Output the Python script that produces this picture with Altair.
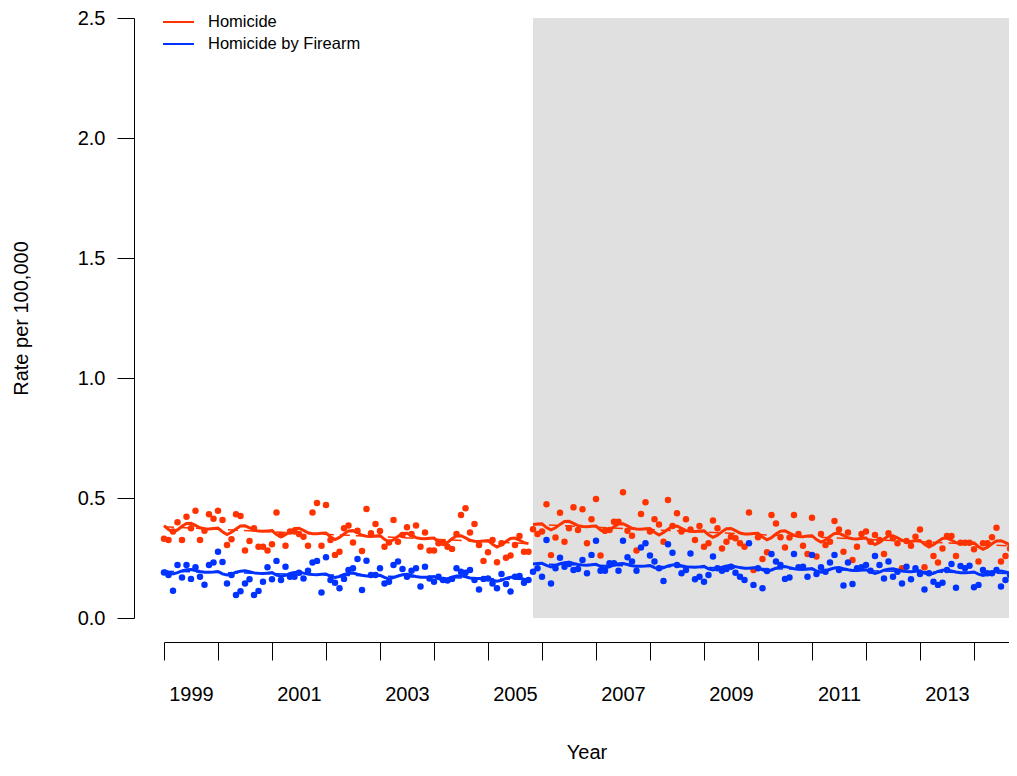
import altair as alt
import pandas as pd

# ---------------- data ----------------
series_names = ["Homicide", "Homicide by Firearm"]
series_colors = ["#FF3300", "#0033FF"]
start_year = 1999
intervention_month = 82          # Nov 2005 (months since Jan 1999)
last_month_visible = 187.78      # right edge of the visible window
year_ticks = list(range(1999, 2015))
y_ticks = [0.0, 0.5, 1.0, 1.5, 2.0, 2.5]

homicide = [
    0.330, 0.325, 0.360, 0.399, 0.325, 0.422, 0.374, 0.447, 0.325, 0.364, 0.432, 0.414,
    0.447, 0.408, 0.304, 0.328, 0.432, 0.425, 0.281, 0.321, 0.374, 0.297, 0.297, 0.281,
    0.307, 0.440, 0.346, 0.301, 0.360, 0.360, 0.350, 0.339, 0.301, 0.440, 0.479, 0.301,
    0.471, 0.325, 0.263, 0.276, 0.374, 0.385, 0.315, 0.364, 0.279, 0.454, 0.353, 0.392,
    0.363, 0.297, 0.315, 0.408, 0.318, 0.346, 0.378, 0.350, 0.385, 0.297, 0.356, 0.281,
    0.281, 0.311, 0.315, 0.297, 0.288, 0.350, 0.429, 0.457, 0.356, 0.392, 0.304, 0.238,
    0.274, 0.325, 0.232, 0.311, 0.251, 0.260, 0.304, 0.342, 0.276, 0.276, 0.370, 0.350,
    0.360, 0.474, 0.262, 0.335, 0.439, 0.318, 0.374, 0.461, 0.367, 0.453, 0.311, 0.411,
    0.496, 0.260, 0.364, 0.367, 0.401, 0.401, 0.524, 0.364, 0.343, 0.281, 0.433, 0.482,
    0.360, 0.411, 0.390, 0.318, 0.492, 0.383, 0.436, 0.360, 0.411, 0.369, 0.325, 0.383,
    0.297, 0.311, 0.406, 0.374, 0.290, 0.318, 0.339, 0.332, 0.311, 0.297, 0.440, 0.200,
    0.336, 0.246, 0.274, 0.429, 0.394, 0.336, 0.294, 0.335, 0.429, 0.350, 0.301, 0.267,
    0.418, 0.256, 0.350, 0.304, 0.318, 0.404, 0.369, 0.276, 0.356, 0.242, 0.297, 0.350,
    0.360, 0.318, 0.346, 0.325, 0.267, 0.353, 0.332, 0.311, 0.207, 0.321, 0.301, 0.339,
    0.369, 0.211, 0.314, 0.258, 0.231, 0.290, 0.342, 0.342, 0.258, 0.314, 0.314, 0.314,
    0.286, 0.235, 0.311, 0.311, 0.336, 0.376, 0.235, 0.258, 0.290, 0.478,
]

firearm = [
    0.190, 0.179, 0.114, 0.221, 0.169, 0.221, 0.163, 0.211, 0.172, 0.139, 0.221, 0.231,
    0.276, 0.233, 0.144, 0.179, 0.096, 0.111, 0.144, 0.161, 0.096, 0.113, 0.151, 0.211,
    0.161, 0.238, 0.158, 0.214, 0.172, 0.172, 0.189, 0.165, 0.197, 0.231, 0.238, 0.106,
    0.253, 0.158, 0.147, 0.124, 0.163, 0.200, 0.207, 0.246, 0.117, 0.239, 0.179, 0.179,
    0.207, 0.144, 0.151, 0.221, 0.235, 0.204, 0.172, 0.197, 0.207, 0.131, 0.214, 0.165,
    0.151, 0.172, 0.158, 0.156, 0.163, 0.207, 0.193, 0.189, 0.200, 0.158, 0.119, 0.163,
    0.165, 0.144, 0.124, 0.183, 0.142, 0.110, 0.172, 0.175, 0.147, 0.158, 0.193, 0.207,
    0.172, 0.325, 0.144, 0.207, 0.251, 0.214, 0.225, 0.200, 0.204, 0.242, 0.186, 0.263,
    0.322, 0.197, 0.197, 0.228, 0.228, 0.197, 0.322, 0.253, 0.235, 0.197, 0.294, 0.311,
    0.260, 0.235, 0.207, 0.154, 0.307, 0.272, 0.221, 0.186, 0.200, 0.269, 0.161, 0.172,
    0.151, 0.179, 0.256, 0.207, 0.197, 0.204, 0.214, 0.189, 0.172, 0.158, 0.311, 0.138,
    0.207, 0.124, 0.196, 0.267, 0.235, 0.221, 0.163, 0.169, 0.267, 0.211, 0.214, 0.172,
    0.263, 0.183, 0.211, 0.193, 0.231, 0.263, 0.200, 0.135, 0.231, 0.142, 0.207, 0.211,
    0.221, 0.197, 0.258, 0.221, 0.165, 0.235, 0.172, 0.193, 0.144, 0.214, 0.161, 0.207,
    0.183, 0.119, 0.186, 0.151, 0.138, 0.147, 0.200, 0.225, 0.126, 0.217, 0.207, 0.218,
    0.128, 0.138, 0.200, 0.186, 0.186, 0.200, 0.131, 0.158, 0.179, 0.276,
]

# fitted (seasonal) curves, read month by month
homicide_fit_pre = [
    0.385, 0.369, 0.358, 0.367, 0.382, 0.394, 0.395, 0.386, 0.376, 0.372, 0.371, 0.373,
    0.375, 0.359, 0.348, 0.357, 0.371, 0.383, 0.384, 0.376, 0.366, 0.362, 0.361, 0.363,
    0.364, 0.348, 0.338, 0.347, 0.361, 0.373, 0.374, 0.365, 0.355, 0.351, 0.351, 0.353,
    0.354, 0.338, 0.327, 0.336, 0.350, 0.363, 0.364, 0.355, 0.345, 0.341, 0.340, 0.342,
    0.344, 0.328, 0.317, 0.326, 0.340, 0.352, 0.353, 0.344, 0.335, 0.331, 0.330, 0.332,
    0.333, 0.317, 0.306, 0.315, 0.330, 0.342, 0.343, 0.334, 0.324, 0.320, 0.319, 0.321,
    0.323, 0.307, 0.296, 0.305, 0.319, 0.331, 0.333, 0.324, 0.314, 0.310,
]
homicide_fit_post = [
    0.390, 0.392,
    0.393, 0.377, 0.367, 0.376, 0.390, 0.402, 0.403, 0.394, 0.385, 0.381, 0.380, 0.382,
    0.383, 0.367, 0.357, 0.366, 0.380, 0.392, 0.393, 0.384, 0.374, 0.371, 0.370, 0.372,
    0.373, 0.357, 0.346, 0.356, 0.370, 0.382, 0.383, 0.374, 0.364, 0.361, 0.360, 0.362,
    0.363, 0.347, 0.336, 0.345, 0.360, 0.372, 0.373, 0.364, 0.354, 0.350, 0.350, 0.352,
    0.353, 0.337, 0.326, 0.335, 0.350, 0.362, 0.363, 0.354, 0.344, 0.340, 0.339, 0.342,
    0.343, 0.327, 0.316, 0.325, 0.340, 0.352, 0.353, 0.344, 0.334, 0.330, 0.329, 0.332,
    0.333, 0.317, 0.306, 0.315, 0.329, 0.342, 0.343, 0.334, 0.324, 0.320, 0.319, 0.322,
    0.323, 0.307, 0.296, 0.305, 0.319, 0.331, 0.333, 0.324, 0.314, 0.310, 0.309, 0.311,
    0.313, 0.297, 0.286, 0.295, 0.309, 0.321, 0.322, 0.314, 0.304, 0.300,
]
firearm_fit_pre = [
    0.199, 0.190, 0.184, 0.189, 0.196, 0.201, 0.202, 0.198, 0.194, 0.191, 0.191, 0.192,
    0.194, 0.184, 0.179, 0.183, 0.191, 0.195, 0.197, 0.193, 0.188, 0.186, 0.185, 0.187,
    0.189, 0.179, 0.174, 0.178, 0.186, 0.190, 0.192, 0.187, 0.183, 0.181, 0.180, 0.182,
    0.183, 0.174, 0.169, 0.173, 0.181, 0.185, 0.187, 0.182, 0.178, 0.175, 0.175, 0.177,
    0.178, 0.169, 0.163, 0.168, 0.175, 0.180, 0.182, 0.177, 0.173, 0.170, 0.170, 0.171,
    0.173, 0.164, 0.158, 0.163, 0.170, 0.175, 0.176, 0.172, 0.167, 0.165, 0.165, 0.166,
    0.168, 0.158, 0.153, 0.157, 0.165, 0.170, 0.171, 0.167, 0.162, 0.160,
]
firearm_fit_post = [
    0.225, 0.227,
    0.228, 0.219, 0.213, 0.218, 0.226, 0.230, 0.232, 0.227, 0.223, 0.221, 0.220, 0.222,
    0.224, 0.214, 0.209, 0.213, 0.221, 0.226, 0.227, 0.223, 0.218, 0.216, 0.216, 0.217,
    0.219, 0.210, 0.204, 0.209, 0.217, 0.221, 0.223, 0.218, 0.214, 0.212, 0.211, 0.213,
    0.215, 0.205, 0.200, 0.205, 0.212, 0.217, 0.218, 0.214, 0.210, 0.207, 0.207, 0.209,
    0.210, 0.201, 0.195, 0.200, 0.208, 0.212, 0.214, 0.210, 0.205, 0.203, 0.202, 0.204,
    0.206, 0.196, 0.191, 0.196, 0.203, 0.208, 0.210, 0.205, 0.201, 0.198, 0.198, 0.200,
    0.201, 0.192, 0.186, 0.191, 0.199, 0.203, 0.205, 0.200, 0.196, 0.194, 0.193, 0.195,
    0.197, 0.187, 0.182, 0.186, 0.194, 0.199, 0.200, 0.196, 0.192, 0.189, 0.189, 0.190,
    0.192, 0.183, 0.177, 0.182, 0.190, 0.194, 0.196, 0.192, 0.187, 0.185,
]

# straight (de-seasonalised) trend segments: [start month, end month], [start, end value]
trend_months_pre = [0, 81]
trend_months_post = [82, 189]
homicide_trend_pre = [0.380, 0.310]
homicide_trend_post = [0.390, 0.300]
firearm_trend_pre = [0.195, 0.160]
firearm_trend_post = [0.225, 0.185]

# ---------------- tables ----------------
n = len(homicide)
assert len(firearm) == n
assert len(homicide_fit_pre) == intervention_month == len(firearm_fit_pre)
assert len(homicide_fit_post) == n - intervention_month == len(firearm_fit_post)


def to_year(m):
    return start_year + m / 12.0


pts = pd.DataFrame({
    "t": [to_year(m) for m in range(n)] * 2,
    "rate": homicide + firearm,
    "series": [series_names[0]] * n + [series_names[1]] * n,
})

fit_rows = []
for name, pre, post in [(series_names[0], homicide_fit_pre, homicide_fit_post),
                        (series_names[1], firearm_fit_pre, firearm_fit_post)]:
    for m, v in enumerate(pre):
        fit_rows.append({"t": to_year(m), "rate": v, "series": name, "seg": name + " pre"})
    for k, v in enumerate(post):
        m = intervention_month + k
        fit_rows.append({"t": to_year(m), "rate": v, "series": name, "seg": name + " post"})
fits = pd.DataFrame(fit_rows)

trend_rows = []
for name, pre, post in [(series_names[0], homicide_trend_pre, homicide_trend_post),
                        (series_names[1], firearm_trend_pre, firearm_trend_post)]:
    for m, v in zip(trend_months_pre, pre):
        trend_rows.append({"t": to_year(m), "rate": v, "series": name, "seg": name + " pre"})
    for m, v in zip(trend_months_post, post):
        trend_rows.append({"t": to_year(m), "rate": v, "series": name, "seg": name + " post"})
trends = pd.DataFrame(trend_rows)

x_end = to_year(last_month_visible)
shade = pd.DataFrame({"start": [to_year(intervention_month)], "end": [x_end]})

FONT = "Liberation Sans"

x_scale = alt.Scale(domain=[start_year, x_end], nice=False, zero=False)
y_scale = alt.Scale(domain=[0, 2.5], nice=False, zero=True)

x_axis = alt.Axis(
    values=year_ticks,
    labelExpr="datum.value % 2 == 1 ? toString(datum.value) : ''",
    labelOffset=27, labelFlush=False, labelOverlap=False,
    tickSize=18, offset=24, grid=False,
    domainColor="black", tickColor="black", domainWidth=1, tickWidth=1,
    labelFont=FONT, labelFontSize=20, labelColor="black", labelPadding=24,
    title="Year", titleFont=FONT, titleFontSize=20, titleFontWeight="normal",
    titleColor="black", titlePadding=38,
)
y_axis = alt.Axis(
    values=y_ticks, format=".1f",
    tickSize=17, offset=30, grid=False,
    domainColor="black", tickColor="black", domainWidth=1, tickWidth=1,
    labelFont=FONT, labelFontSize=20, labelColor="black", labelPadding=12,
    title="Rate per 100,000", titleFont=FONT, titleFontSize=20,
    titleFontWeight="normal", titleColor="black", titlePadding=46,
)

shade_layer = alt.Chart(shade).mark_rect(color="#E0E0E0").encode(
    x=alt.X("start:Q", scale=x_scale, axis=x_axis),
    x2="end:Q",
    y=alt.Y(datum=2.5, scale=y_scale, axis=y_axis),
    y2=alt.Y2(datum=0),
)

point_layers = []
for name, col in zip(series_names, series_colors):
    point_layers.append(
        alt.Chart(pts).transform_filter(alt.datum.series == name)
        .mark_circle(size=42, opacity=1, color=col)
        .encode(x=alt.X("t:Q", scale=x_scale), y=alt.Y("rate:Q", scale=y_scale))
    )

trend_layers = []
for name, col in zip(series_names, series_colors):
    trend_layers.append(
        alt.Chart(trends).transform_filter(alt.datum.series == name)
        .mark_line(strokeWidth=1.5, strokeDash=[10, 6], color=col)
        .encode(x=alt.X("t:Q", scale=x_scale), y=alt.Y("rate:Q", scale=y_scale),
                detail="seg:N")
    )

fit_layers = []
for name, col in zip(series_names, series_colors):
    fit_layers.append(
        alt.Chart(fits).transform_filter(alt.datum.series == name)
        .mark_line(strokeWidth=3, color=col)
        .encode(x=alt.X("t:Q", scale=x_scale), y=alt.Y("rate:Q", scale=y_scale),
                detail="seg:N")
    )

# legend (top-left, like the original's line-key)
legend_layers = []
legend_rows_y = [4, 26]
for name, col, ly in zip(series_names, series_colors, legend_rows_y):
    key = pd.DataFrame({"label": [name]})
    legend_layers.append(
        alt.Chart(key).mark_rule(strokeWidth=2, color=col).encode(
            x=alt.value(-1), x2=alt.value(30), y=alt.value(ly))
    )
    legend_layers.append(
        alt.Chart(key).mark_text(align="left", baseline="middle", font=FONT,
                                 fontSize=16.5, color="black").encode(
            x=alt.value(44), y=alt.value(ly), text="label:N")
    )

chart = alt.layer(shade_layer, *point_layers, *trend_layers, *fit_layers,
                  *legend_layers).properties(
    width=845, height=600,
    autosize=alt.AutoSizeParams(type="none"),
    padding={"left": 156, "top": 10, "right": 0, "bottom": 144},
    background="white",
).configure_view(stroke=None)

chart.save("out.html", embed_options={"renderer": "svg", "actions": False})
